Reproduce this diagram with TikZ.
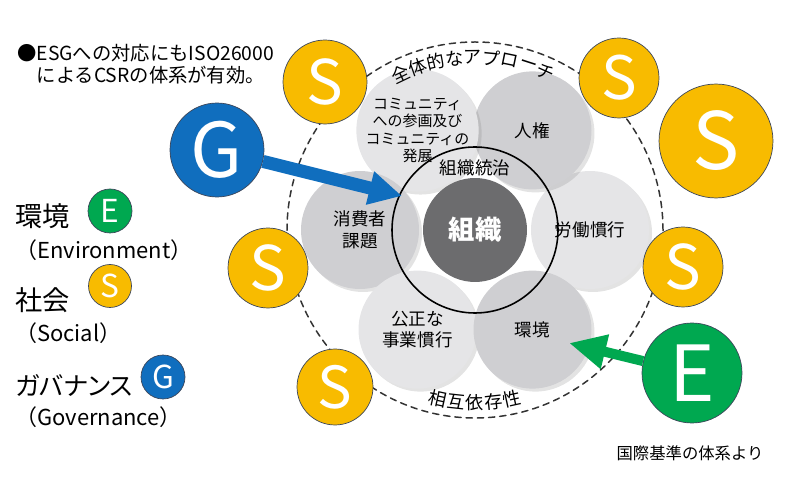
\documentclass[tikz,border=0pt]{standalone}
\usepackage{fontspec}
\setmainfont{Noto Sans CJK JP}
\newfontfamily\pfont[RawFeature=+palt]{Noto Sans CJK JP}
\usetikzlibrary{arrows.meta,shadows}
\definecolor{sgold}{RGB}{248,187,0}
\definecolor{egreen}{RGB}{0,168,80}
\definecolor{gblue}{RGB}{16,110,190}
\definecolor{pl}{RGB}{229,229,231}
\definecolor{pd}{RGB}{207,207,210}
\definecolor{core}{RGB}{108,108,110}
\definecolor{rim}{RGB}{60,70,90}
\newcommand\fsz[2]{\fontsize{#1}{#2}\selectfont}
\tikzset{
ball/.style={circle,inner sep=0pt,draw=rim,line width=.4pt,text=white},
petal/.style={circle,inner sep=0pt,minimum size=2.36cm,fill=#1,align=center,drop shadow={opacity=.22,shadow xshift=.6mm,shadow yshift=-.6mm}},
ptxt/.style={font=\fsz{10}{12.5}},
ctxt/.style={font=\fsz{8.5}{10}},
lg/.style={anchor=west,inner sep=0pt},
arc/.style={inner sep=0pt,font=\fsz{10.3}{12}}
}
\begin{document}
\begin{tikzpicture}[x=0.02cm,y=0.02cm,line join=round,line cap=round,font=\fsz{10}{12.5}]
\useasboundingbox(0,0)rectangle(800,500);
\begin{scope}[shift={(475,270)}]
\draw[black!80,line width=.85pt,dash pattern=on 3.6pt off 2.8pt](0,0)circle(188);
\foreach \a/\c/\f/\t in{0/pl/ptxt/労働慣行,60/pd/ptxt/人権,120/pl/ctxt/{コミュニティ\\への参画及び\\コミュニティの\\発展},180/pd/ptxt/{消費者\\課題},240/pl/ptxt/{公正な\\事業慣行},300/pd/ptxt/環境}
\node[petal=\c,\f](p\a)at(\a:115){\t};
\draw[line width=.9pt](0,0)circle(83);
\node(gov)at(0,62){組織統治};
\node[circle,fill=core,minimum size=2.08cm,text=white,font=\fsz{15}{18}\bfseries](org)at(0,0){組織};
\foreach \c[count=\i]in{全,体,的,な,ア,プ,ロ,ー,チ}\node[arc,rotate=31.7-6.2*\i](t\i)at({121.7-6.2*\i}:173){\c};
\foreach \c[count=\i]in{相,互,依,存,性}\node[arc,rotate=6.2*\i-18.6](b\i)at({251.4+6.2*\i}:173){\c};
\end{scope}
\foreach \x/\y/\r/\f in{325/418/42/35,619/422/40/34,716/359/57/45,683/233/40/35,268/232/40/35,335/113/38/33}
\node[ball,fill=sgold,minimum size=\r*0.04cm,font=\fsz{\f}{\f}](s\x)at(\x,\y){S};
\node[ball,fill=gblue,minimum size=1.88cm,font=\fsz{43}{43}](g)at(217,350){G};
\node[ball,fill=egreen,minimum size=2cm,font=\fsz{44}{44}](e)at(692,127){E};
\coordinate(gtip)at(402,304);
\coordinate(etip)at(569,157);
\draw[gblue,line width=.26cm,line cap=butt,-{Triangle[length=6.6mm,width=6.4mm]}](g)--(gtip);
\draw[egreen,line width=.2cm,line cap=butt,-{Triangle[length=7.4mm,width=6.6mm]}](e)--(etip);
\node[lg,align=left,font=\fsz{11}{12.5}](note)at(17,436){●ESGへの対応にもISO26000\\\phantom{●}によるCSRの体系が有効。};
\node[lg,font=\fsz{15.5}{15}](env)at(15,284){環境};
\node[ball,fill=egreen,minimum size=.88cm,font=\fsz{18}{18}](e0)at(110,289){E};
\node[lg,font=\fsz{12.5}{12.5}](envt)at(15,250){（Environment）};
\node[lg,font=\fsz{15.5}{15}](soc)at(15,200){社会};
\node[ball,fill=sgold,minimum size=.86cm,font=\fsz{18}{18}](s0)at(110,214){S};
\node[lg,font=\fsz{12.5}{12.5}](soct)at(15,167){（Social）};
\node[lg,font=\fsz{14.5}{15}\pfont](gov0)at(15,115){ガバナンス};
\node[ball,fill=gblue,minimum size=.88cm,font=\fsz{18}{18}](g0)at(163,123){G};
\node[lg,font=\fsz{12.5}{12.5}](govt)at(15,83){（Governance）};
\node[font=\fsz{9.3}{11}](src)at(690,47){国際基準の体系より};
\end{tikzpicture}
\end{document}
